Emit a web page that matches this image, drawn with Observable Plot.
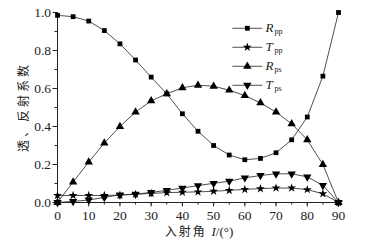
<!DOCTYPE html>
<html>
<head>
<meta charset="utf-8">
<script src="https://cdn.jsdelivr.net/npm/d3@7"></script>
<script src="https://cdn.jsdelivr.net/npm/@observablehq/plot@0.6"></script>
<style>
  html, body { margin: 0; padding: 0; background: #fff; }
  #chart svg { display: block; }
</style>
</head>
<body>
<div id="chart"></div>
<script>
const angles = [0,5,10,15,20,25,30,35,40,45,50,55,60,65,70,75,80,85,90];
const Rpp = [0.985,0.978,0.955,0.905,0.835,0.75,0.66,0.572,0.467,0.375,0.30,0.25,0.225,0.232,0.262,0.33,0.45,0.665,1.0];
const Tpp = [0.037,0.037,0.037,0.037,0.039,0.043,0.048,0.052,0.054,0.056,0.059,0.064,0.069,0.073,0.076,0.076,0.068,0.046,0.0];
const Rps = [0.0,0.108,0.213,0.313,0.40,0.476,0.535,0.572,0.604,0.617,0.612,0.591,0.563,0.524,0.476,0.414,0.33,0.20,0.0];
const Tps = [0.0,0.006,0.013,0.027,0.04,0.044,0.053,0.064,0.076,0.089,0.101,0.112,0.13,0.142,0.151,0.151,0.135,0.09,0.0];
const seriesNames = ["R", "T", "R", "T"];
const seriesSubs = ["pp", "pp", "ps", "ps"];
const seriesSymbols = ["square", "star", "triangle", "triangle"];
const seriesRotate = [0, 0, 0, 180];
const seriesSizes = [2.7, 2.8, 3.1, 3.1];
const yTicks = [0, 0.2, 0.4, 0.6, 0.8, 1.0];
const xTicks = [0,10,20,30,40,50,60,70,80,90];
const yLabel = "透、反射系数";

const allSeries = [Rpp, Tpp, Rps, Tps];
const rows = [];
allSeries.forEach((vals, s) => vals.forEach((v, i) => rows.push({s, x: angles[i], y: v})));

// legend rows, placed in data space
const legend = seriesNames.map((n, i) => ({
  i, name: n, sub: seriesSubs[i],
  x0: 56, x1: 65.6, xm: 60.8, xt: 66.6, y: 0.917 - i * 0.1
}));

const serif = "'Liberation Serif', 'Times New Roman', serif";
const ink = "#222";
const blank = () => "";

const marks = [
  Plot.axisY({ticks: d3.range(0, 1.01, 0.1), tickSize: 2.5, tickFormat: blank, label: null, stroke: ink}),
  Plot.axisY({ticks: yTicks, tickSize: 4.5, tickFormat: d3.format(".1f"), tickPadding: 2, label: null, fontSize: 13.5, fontFamily: serif, fill: ink, stroke: ink}),
  Plot.axisX({ticks: d3.range(0, 91, 5), tickSize: 2.5, tickFormat: blank, label: null, stroke: ink}),
  Plot.axisX({ticks: xTicks, tickSize: 4.5, tickPadding: 3, label: null, fontSize: 13.5, fontFamily: serif, fill: ink, stroke: ink}),
  Plot.ruleX([0], {stroke: ink, strokeWidth: 1}),
  Plot.ruleY([0], {stroke: ink, strokeWidth: 1}),
];

allSeries.forEach((vals, s) => {
  const d = rows.filter(r => r.s === s);
  marks.push(Plot.line(d, {x: "x", y: "y", stroke: ink, strokeWidth: 0.8}));
  marks.push(Plot.dot(d, {x: "x", y: "y", symbol: seriesSymbols[s], rotate: seriesRotate[s], r: seriesSizes[s], fill: "#000", stroke: "none"}));
  const L = legend.filter(l => l.i === s);
  marks.push(Plot.link(L, {x1: "x0", x2: "x1", y1: "y", y2: "y", stroke: ink, strokeWidth: 0.8}));
  marks.push(Plot.dot(L, {x: "xm", y: "y", symbol: seriesSymbols[s], rotate: seriesRotate[s], r: seriesSizes[s], fill: "#000", stroke: "none"}));
});
marks.push(Plot.text(legend, {x: "xt", y: "y", text: "name", textAnchor: "start", fontSize: 13, fontStyle: "italic", fontFamily: serif, fill: ink}));
marks.push(Plot.text(legend, {x: "xt", y: "y", text: "sub", textAnchor: "start", dx: 9, dy: 3.5, fontSize: 8, fontFamily: serif, fill: ink}));

const chart = Plot.plot({
  width: 365,
  height: 242,
  marginLeft: 57,
  marginRight: 27,
  marginTop: 12,
  marginBottom: 40,
  x: {domain: [0, 90]},
  y: {domain: [0, 1]},
  style: {background: "#fff", color: ink},
  marks
});

const svg = d3.select(chart);
// y label (vertical)
svg.append("text")
  .attr("transform", "translate(25,107) rotate(-90)")
  .attr("text-anchor", "middle")
  .attr("dominant-baseline", "middle")
  .attr("font-family", "'Noto Sans CJK SC', sans-serif")
  .attr("font-size", 12)
  .attr("letter-spacing", 3)
  .attr("fill", ink)
  .text(yLabel);
// x label with italic I
const xl = svg.append("text")
  .attr("x", 199).attr("y", 236)
  .attr("text-anchor", "middle")
  .attr("font-size", 12)
  .attr("fill", ink);
xl.append("tspan").attr("font-family", "'Noto Sans CJK SC', sans-serif").attr("letter-spacing", 2).text("入射角 ");
xl.append("tspan").attr("font-family", serif).attr("font-style", "italic").attr("font-size", 13).text("I");
xl.append("tspan").attr("font-family", serif).attr("font-size", 13).text("/(°)");

document.getElementById("chart").appendChild(chart);
</script>
</body>
</html>
